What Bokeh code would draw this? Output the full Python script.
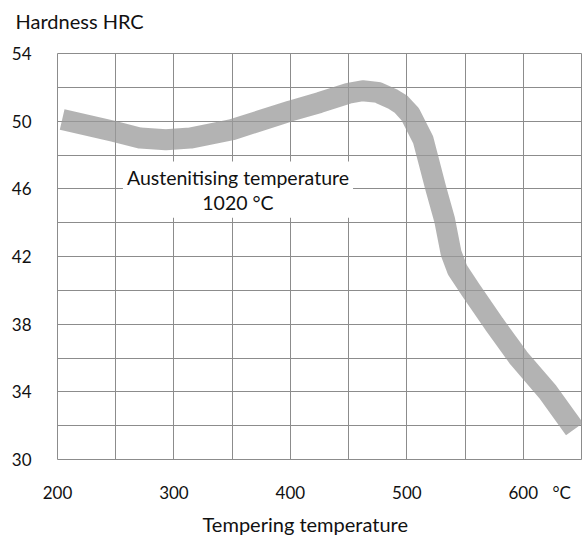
from bokeh.plotting import figure
from bokeh.models import Range1d, FixedTicker, Label, Title
from bokeh.embed import file_html
from bokeh.resources import INLINE

# Data
temps = [204, 248, 271, 293, 314, 350, 400, 425, 450, 462, 475, 488, 495, 503, 514,
         525, 532.5, 538, 543.5, 555, 575, 596, 621, 644]
hrc = [50.1, 49.4, 49.0, 48.9, 49.0, 49.5, 50.6, 51.1, 51.65, 51.8, 51.7, 51.3, 51.0, 50.4, 48.9,
       46.0, 44.15, 42.2, 41.2, 40.0, 38.0, 36.0, 34.0, 31.8]

x_ticks = [200, 300, 400, 500, 600, 633]
x_tick_text = {633: "°C"}
y_ticks = [30, 34, 38, 42, 46, 50, 54]
x_grid = [250, 300, 350, 400, 450, 500, 550, 600]
y_grid = [32, 34, 36, 38, 40, 42, 44, 46, 48, 50, 52]

FONT = "Lato"
GRID = "#8c8c8c"
TXT = "#111111"

p = figure(width=582, height=540, output_backend="svg", toolbar_location=None,
           title=None,
           x_range=Range1d(200, 650), y_range=Range1d(30, 54),
           min_border_left=57, min_border_right=1, min_border_top=53, min_border_bottom=81)

p.outline_line_color = GRID
p.outline_line_width = 1
p.background_fill_color = "white"
p.border_fill_color = "white"

p.xgrid.ticker = FixedTicker(ticks=x_grid)
p.ygrid.ticker = FixedTicker(ticks=y_grid)
for g in (p.xgrid, p.ygrid):
    g.grid_line_color = GRID
    g.grid_line_width = 1

p.xaxis.ticker = FixedTicker(ticks=x_ticks)
p.xaxis.major_label_overrides = x_tick_text
p.yaxis.ticker = FixedTicker(ticks=y_ticks)
for ax in (p.xaxis, p.yaxis):
    ax.axis_line_color = None
    ax.major_tick_line_color = None
    ax.minor_tick_line_color = None
    ax.major_label_text_font = FONT
    ax.major_label_text_font_size = "17px"
    ax.major_label_text_color = TXT
p.xaxis.major_label_standoff = 16
p.yaxis.major_label_standoff = 20

p.line(temps, hrc, line_color="#999999", line_alpha=0.75, line_width=21,
       line_cap="butt", line_join="round")

p.add_layout(Label(x=355, y=45.95, text="Austenitising temperature\n1020 °C",
                   text_align="center", text_baseline="middle",
                   text_font=FONT, text_font_size="19.5px", text_color=TXT,
                   text_line_height=1.1,
                   background_fill_color="white", padding=4))

p.add_layout(Title(text="Hardness HRC\n", align="left", offset=-42, standoff=16,
                   vertical_align="top", text_line_height=0.45,
                   text_font=FONT, text_font_size="20px", text_font_style="normal",
                   text_color=TXT), "above")
p.add_layout(Title(text="Tempering temperature", align="left", offset=145, standoff=9,
                   text_font=FONT, text_font_size="20px", text_font_style="normal",
                   text_color=TXT), "below")

open("out.html", "w").write(file_html(p, INLINE))
